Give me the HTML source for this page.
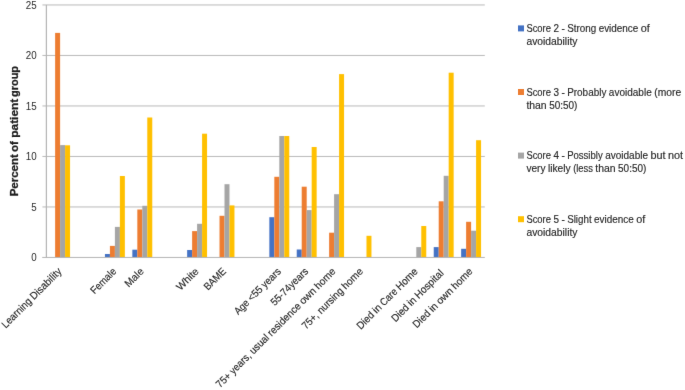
<!DOCTYPE html><html><head><meta charset="utf-8"><style>html,body{margin:0;padding:0;background:#fff;}svg{display:block;}text{font-family:"Liberation Sans",sans-serif;fill:#2a2a2a;stroke:#2a2a2a;stroke-width:0.16px;}text.t{fill:#1e1e1e;stroke:#1e1e1e;stroke-width:0.3px;}</style></head><body>
<svg width="685" height="390" viewBox="0 0 685 390">
<defs><filter id="soft" x="0" y="0" width="685" height="390" filterUnits="userSpaceOnUse" color-interpolation-filters="sRGB"><feConvolveMatrix order="3" kernelMatrix="1 10 1 10 100 10 1 10 1" edgeMode="duplicate"/></filter><filter id="softT" x="0" y="0" width="685" height="390" filterUnits="userSpaceOnUse" color-interpolation-filters="sRGB"><feConvolveMatrix order="3" kernelMatrix="1 14 1 14 196 14 1 14 1" edgeMode="none"/></filter></defs><g filter="url(#soft)">
<rect width="685" height="390" fill="#fff"/>
<rect x="42.40" y="206.45" width="442.40" height="1" fill="#b9b9b9"/>
<rect x="42.40" y="155.95" width="442.40" height="1" fill="#b9b9b9"/>
<rect x="42.40" y="105.45" width="442.40" height="1" fill="#b9b9b9"/>
<rect x="42.40" y="54.95" width="442.40" height="1" fill="#b9b9b9"/>
<rect x="42.40" y="4.45" width="442.40" height="1" fill="#b9b9b9"/>
<rect x="55.12" y="32.90" width="4.98" height="224.55" fill="#ED7D31"/>
<rect x="60.10" y="145.10" width="4.98" height="112.35" fill="#A5A5A5"/>
<rect x="65.08" y="145.30" width="4.98" height="112.15" fill="#FFC000"/>
<rect x="104.94" y="254.00" width="4.98" height="3.45" fill="#4472C4"/>
<rect x="109.92" y="245.90" width="4.98" height="11.55" fill="#ED7D31"/>
<rect x="114.90" y="226.90" width="4.98" height="30.55" fill="#A5A5A5"/>
<rect x="119.88" y="176.00" width="4.98" height="81.45" fill="#FFC000"/>
<rect x="132.34" y="249.70" width="4.98" height="7.75" fill="#4472C4"/>
<rect x="137.32" y="209.50" width="4.98" height="47.95" fill="#ED7D31"/>
<rect x="142.30" y="205.80" width="4.98" height="51.65" fill="#A5A5A5"/>
<rect x="147.28" y="117.50" width="4.98" height="139.95" fill="#FFC000"/>
<rect x="187.14" y="250.00" width="4.98" height="7.45" fill="#4472C4"/>
<rect x="192.12" y="231.10" width="4.98" height="26.35" fill="#ED7D31"/>
<rect x="197.10" y="223.80" width="4.98" height="33.65" fill="#A5A5A5"/>
<rect x="202.08" y="133.70" width="4.98" height="123.75" fill="#FFC000"/>
<rect x="219.52" y="215.80" width="4.98" height="41.65" fill="#ED7D31"/>
<rect x="224.50" y="184.20" width="4.98" height="73.25" fill="#A5A5A5"/>
<rect x="229.48" y="205.40" width="4.98" height="52.05" fill="#FFC000"/>
<rect x="269.34" y="217.20" width="4.98" height="40.25" fill="#4472C4"/>
<rect x="274.32" y="176.80" width="4.98" height="80.65" fill="#ED7D31"/>
<rect x="279.30" y="136.00" width="4.98" height="121.45" fill="#A5A5A5"/>
<rect x="284.28" y="136.00" width="4.98" height="121.45" fill="#FFC000"/>
<rect x="296.74" y="249.50" width="4.98" height="7.95" fill="#4472C4"/>
<rect x="301.72" y="186.70" width="4.98" height="70.75" fill="#ED7D31"/>
<rect x="306.70" y="210.10" width="4.98" height="47.35" fill="#A5A5A5"/>
<rect x="311.68" y="147.00" width="4.98" height="110.45" fill="#FFC000"/>
<rect x="329.12" y="232.70" width="4.98" height="24.75" fill="#ED7D31"/>
<rect x="334.10" y="194.20" width="4.98" height="63.25" fill="#A5A5A5"/>
<rect x="339.08" y="74.10" width="4.98" height="183.35" fill="#FFC000"/>
<rect x="366.48" y="235.80" width="4.98" height="21.65" fill="#FFC000"/>
<rect x="416.30" y="247.10" width="4.98" height="10.35" fill="#A5A5A5"/>
<rect x="421.28" y="226.00" width="4.98" height="31.45" fill="#FFC000"/>
<rect x="433.74" y="247.10" width="4.98" height="10.35" fill="#4472C4"/>
<rect x="438.72" y="201.30" width="4.98" height="56.15" fill="#ED7D31"/>
<rect x="443.70" y="175.80" width="4.98" height="81.65" fill="#A5A5A5"/>
<rect x="448.68" y="72.70" width="4.98" height="184.75" fill="#FFC000"/>
<rect x="461.14" y="248.80" width="4.98" height="8.65" fill="#4472C4"/>
<rect x="466.12" y="221.80" width="4.98" height="35.65" fill="#ED7D31"/>
<rect x="471.10" y="230.70" width="4.98" height="26.75" fill="#A5A5A5"/>
<rect x="476.08" y="140.20" width="4.98" height="117.25" fill="#FFC000"/>
<rect x="45.80" y="4.95" width="1.2" height="252.5" fill="#b4b4b4"/>
<rect x="42.20" y="256.95" width="442.60" height="1" fill="#b4b4b4"/>
</g><g filter="url(#softT)">
<text x="31.25" y="261.15" font-size="10.1" style="stroke-width:0" textLength="5.45" lengthAdjust="spacingAndGlyphs">0</text>
<text x="31.25" y="210.65" font-size="10.1" style="stroke-width:0" textLength="5.45" lengthAdjust="spacingAndGlyphs">5</text>
<text x="25.80" y="160.15" font-size="10.1" style="stroke-width:0" textLength="10.90" lengthAdjust="spacingAndGlyphs">10</text>
<text x="25.80" y="109.65" font-size="10.1" style="stroke-width:0" textLength="10.90" lengthAdjust="spacingAndGlyphs">15</text>
<text x="25.80" y="59.15" font-size="10.1" style="stroke-width:0" textLength="10.90" lengthAdjust="spacingAndGlyphs">20</text>
<text x="25.80" y="8.65" font-size="10.1" style="stroke-width:0" textLength="10.90" lengthAdjust="spacingAndGlyphs">25</text>
<g transform="translate(17.8,195.9) rotate(-90)" font-size="11.2" font-weight="bold"><text class="t" x="-0.40" y="0" textLength="42.10" lengthAdjust="spacingAndGlyphs">Percent</text><text class="t" x="44.00" y="0" textLength="10.80" lengthAdjust="spacingAndGlyphs">of</text><text class="t" x="58.20" y="0" textLength="38.90" lengthAdjust="spacingAndGlyphs">patient</text><text class="t" x="99.00" y="0" textLength="30.90" lengthAdjust="spacingAndGlyphs">group</text></g>
<g transform="translate(62.30,272.05) rotate(-45)"><text x="-80.04" y="0.00" font-size="10.4" textLength="37.62" lengthAdjust="spacingAndGlyphs">Learning</text><text x="-39.99" y="0.00" font-size="10.4" textLength="39.99" lengthAdjust="spacingAndGlyphs">Disability</text></g>
<g transform="translate(117.10,272.05) rotate(-45)"><text x="-31.87" y="0.00" font-size="10.4" textLength="31.87" lengthAdjust="spacingAndGlyphs">Female</text></g>
<g transform="translate(144.50,272.05) rotate(-45)"><text x="-22.18" y="0.00" font-size="10.4" textLength="22.18" lengthAdjust="spacingAndGlyphs">Male</text></g>
<g transform="translate(199.30,272.05) rotate(-45)"><text x="-26.65" y="0.00" font-size="10.4" textLength="26.65" lengthAdjust="spacingAndGlyphs">White</text></g>
<g transform="translate(226.70,272.05) rotate(-45)"><text x="-26.53" y="0.00" font-size="10.4" textLength="26.53" lengthAdjust="spacingAndGlyphs">BAME</text></g>
<g transform="translate(281.50,272.05) rotate(-45)"><text x="-61.21" y="0.00" font-size="10.4" textLength="16.64" lengthAdjust="spacingAndGlyphs">Age</text><text x="-42.13" y="0.00" font-size="10.4" textLength="16.36" lengthAdjust="spacingAndGlyphs">&lt;55</text><text x="-23.34" y="0.00" font-size="10.4" textLength="23.34" lengthAdjust="spacingAndGlyphs">years</text></g>
<g transform="translate(308.90,272.05) rotate(-45)"><text x="-48.45" y="0.00" font-size="10.4" textLength="48.45" lengthAdjust="spacingAndGlyphs">55-74years</text></g>
<g transform="translate(336.30,272.05) rotate(-45)"><text x="-164.33" y="0.00" font-size="10.4" textLength="16.36" lengthAdjust="spacingAndGlyphs">75+</text><text x="-145.53" y="0.00" font-size="10.4" textLength="26.02" lengthAdjust="spacingAndGlyphs">years,</text><text x="-117.08" y="0.00" font-size="10.4" textLength="23.14" lengthAdjust="spacingAndGlyphs">usual</text><text x="-91.51" y="0.00" font-size="10.4" textLength="42.35" lengthAdjust="spacingAndGlyphs">residence</text><text x="-46.73" y="0.00" font-size="10.4" textLength="19.02" lengthAdjust="spacingAndGlyphs">own</text><text x="-25.28" y="0.00" font-size="10.4" textLength="25.28" lengthAdjust="spacingAndGlyphs">home</text></g>
<g transform="translate(363.70,272.05) rotate(-45)"><text x="-81.64" y="0.00" font-size="10.4" textLength="19.05" lengthAdjust="spacingAndGlyphs">75+,</text><text x="-60.16" y="0.00" font-size="10.4" textLength="32.45" lengthAdjust="spacingAndGlyphs">nursing</text><text x="-25.28" y="0.00" font-size="10.4" textLength="25.28" lengthAdjust="spacingAndGlyphs">home</text></g>
<g transform="translate(418.50,272.05) rotate(-45)"><text x="-81.84" y="0.00" font-size="10.4" textLength="20.10" lengthAdjust="spacingAndGlyphs">Died</text><text x="-59.31" y="0.00" font-size="10.4" textLength="8.12" lengthAdjust="spacingAndGlyphs">in</text><text x="-48.76" y="0.00" font-size="10.4" textLength="20.00" lengthAdjust="spacingAndGlyphs">Care</text><text x="-26.33" y="0.00" font-size="10.4" textLength="26.33" lengthAdjust="spacingAndGlyphs">Home</text></g>
<g transform="translate(444.20,273.75) rotate(-45)"><text x="-69.02" y="0.00" font-size="10.4" textLength="20.10" lengthAdjust="spacingAndGlyphs">Died</text><text x="-46.49" y="0.00" font-size="10.4" textLength="8.12" lengthAdjust="spacingAndGlyphs">in</text><text x="-35.94" y="0.00" font-size="10.4" textLength="35.94" lengthAdjust="spacingAndGlyphs">Hospital</text></g>
<g transform="translate(473.30,272.05) rotate(-45)"><text x="-79.81" y="0.00" font-size="10.4" textLength="20.10" lengthAdjust="spacingAndGlyphs">Died</text><text x="-57.28" y="0.00" font-size="10.4" textLength="8.12" lengthAdjust="spacingAndGlyphs">in</text><text x="-46.73" y="0.00" font-size="10.4" textLength="19.02" lengthAdjust="spacingAndGlyphs">own</text><text x="-25.28" y="0.00" font-size="10.4" textLength="25.28" lengthAdjust="spacingAndGlyphs">home</text></g>
<rect x="518" y="25.40" width="6" height="6" fill="#4472C4"/>
<text x="526.40" y="32.00" font-size="10.4" textLength="24.54" lengthAdjust="spacingAndGlyphs">Score</text><text x="553.40" y="32.00" font-size="10.4" textLength="5.51" lengthAdjust="spacingAndGlyphs">2</text><text x="561.38" y="32.00" font-size="10.4" textLength="3.33" lengthAdjust="spacingAndGlyphs">-</text><text x="567.17" y="32.00" font-size="10.4" textLength="29.01" lengthAdjust="spacingAndGlyphs">Strong</text><text x="598.64" y="32.00" font-size="10.4" textLength="39.68" lengthAdjust="spacingAndGlyphs">evidence</text><text x="640.78" y="32.00" font-size="10.4" textLength="9.06" lengthAdjust="spacingAndGlyphs">of</text>
<text x="526.40" y="45.00" font-size="10.4" textLength="51.06" lengthAdjust="spacingAndGlyphs">avoidability</text>
<rect x="518" y="89.00" width="6" height="6" fill="#ED7D31"/>
<text x="526.40" y="95.60" font-size="10.4" textLength="24.54" lengthAdjust="spacingAndGlyphs">Score</text><text x="553.40" y="95.60" font-size="10.4" textLength="5.51" lengthAdjust="spacingAndGlyphs">3</text><text x="561.38" y="95.60" font-size="10.4" textLength="3.33" lengthAdjust="spacingAndGlyphs">-</text><text x="567.17" y="95.60" font-size="10.4" textLength="39.22" lengthAdjust="spacingAndGlyphs">Probably</text><text x="608.84" y="95.60" font-size="10.4" textLength="42.91" lengthAdjust="spacingAndGlyphs">avoidable</text><text x="654.22" y="95.60" font-size="10.4" textLength="26.93" lengthAdjust="spacingAndGlyphs">(more</text>
<text x="526.40" y="108.60" font-size="10.4" textLength="20.29" lengthAdjust="spacingAndGlyphs">than</text><text x="549.15" y="108.60" font-size="10.4" textLength="28.27" lengthAdjust="spacingAndGlyphs">50:50)</text>
<rect x="518" y="152.60" width="6" height="6" fill="#A5A5A5"/>
<text x="526.40" y="159.20" font-size="10.4" textLength="24.54" lengthAdjust="spacingAndGlyphs">Score</text><text x="553.40" y="159.20" font-size="10.4" textLength="5.51" lengthAdjust="spacingAndGlyphs">4</text><text x="561.38" y="159.20" font-size="10.4" textLength="3.33" lengthAdjust="spacingAndGlyphs">-</text><text x="567.17" y="159.20" font-size="10.4" textLength="35.50" lengthAdjust="spacingAndGlyphs">Possibly</text><text x="605.13" y="159.20" font-size="10.4" textLength="42.91" lengthAdjust="spacingAndGlyphs">avoidable</text><text x="650.51" y="159.20" font-size="10.4" textLength="15.08" lengthAdjust="spacingAndGlyphs">but</text><text x="668.04" y="159.20" font-size="10.4" textLength="15.10" lengthAdjust="spacingAndGlyphs">not</text>
<text x="526.40" y="172.20" font-size="10.4" textLength="19.05" lengthAdjust="spacingAndGlyphs">very</text><text x="547.90" y="172.20" font-size="10.4" textLength="22.77" lengthAdjust="spacingAndGlyphs">likely</text><text x="573.14" y="172.20" font-size="10.4" textLength="19.72" lengthAdjust="spacingAndGlyphs">(less</text><text x="595.32" y="172.20" font-size="10.4" textLength="20.29" lengthAdjust="spacingAndGlyphs">than</text><text x="618.07" y="172.20" font-size="10.4" textLength="28.27" lengthAdjust="spacingAndGlyphs">50:50)</text>
<rect x="518" y="216.20" width="6" height="6" fill="#FFC000"/>
<text x="526.40" y="222.80" font-size="10.4" textLength="24.54" lengthAdjust="spacingAndGlyphs">Score</text><text x="553.40" y="222.80" font-size="10.4" textLength="5.51" lengthAdjust="spacingAndGlyphs">5</text><text x="561.38" y="222.80" font-size="10.4" textLength="3.33" lengthAdjust="spacingAndGlyphs">-</text><text x="567.17" y="222.80" font-size="10.4" textLength="24.47" lengthAdjust="spacingAndGlyphs">Slight</text><text x="594.10" y="222.80" font-size="10.4" textLength="39.68" lengthAdjust="spacingAndGlyphs">evidence</text><text x="636.25" y="222.80" font-size="10.4" textLength="9.06" lengthAdjust="spacingAndGlyphs">of</text>
<text x="526.40" y="235.80" font-size="10.4" textLength="51.06" lengthAdjust="spacingAndGlyphs">avoidability</text>
</g></svg></body></html>
